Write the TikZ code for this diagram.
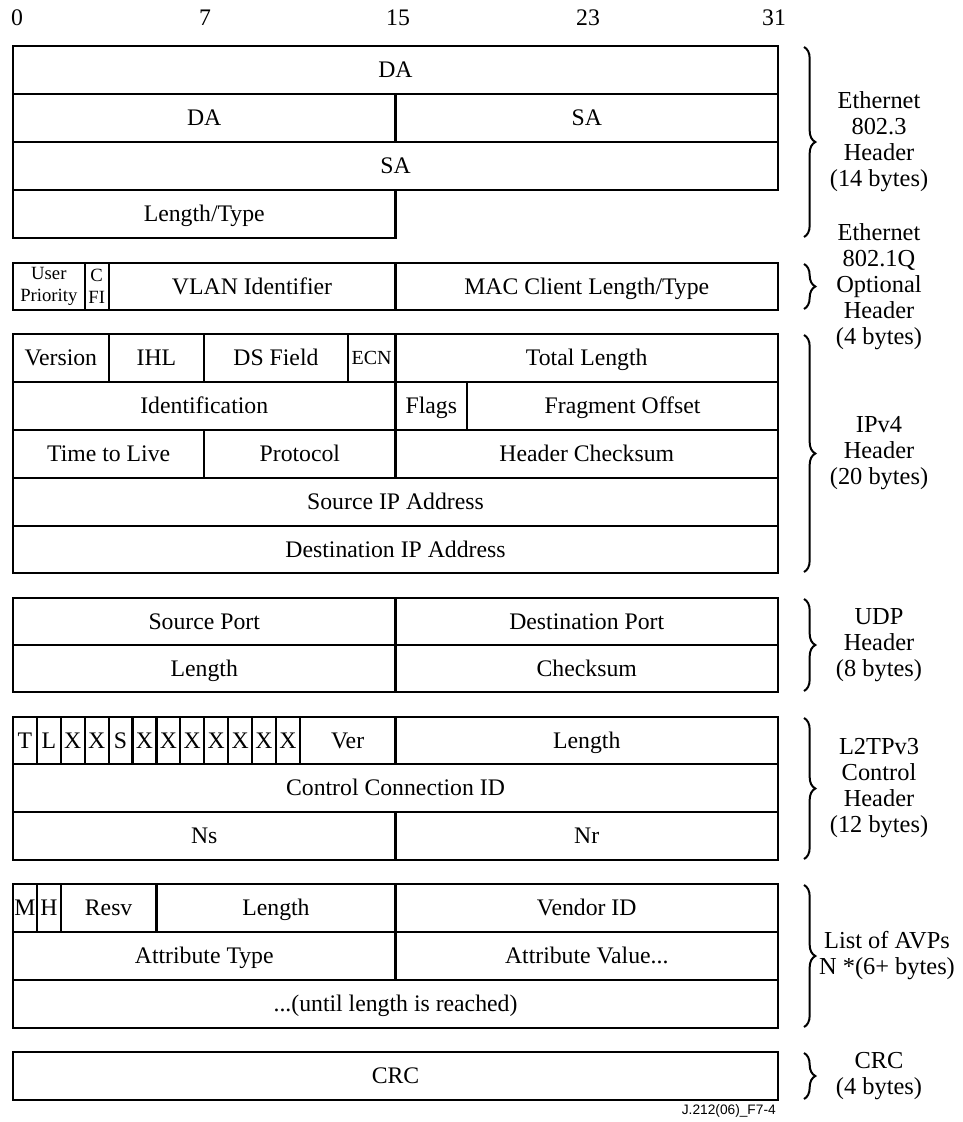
\documentclass[tikz,border=0pt]{standalone}
\usepackage{fontspec}
\setmainfont{Liberation Serif}
\newfontfamily\footfont{Liberation Sans}
\usetikzlibrary{decorations.pathreplacing}
\tikzset{
  fld/.style={draw, line width=1.6pt, inner sep=0pt, align=center,
    text height=13pt, text depth=1.2pt,
    font=\fontsize{17.8}{18.3}\selectfont},
  smalltxt/.style={text height={}, text depth={},
    font=\fontsize{14}{16.5}\selectfont},
  ecntxt/.style={text height=11pt, text depth=1pt, font=\fontsize{15}{16}\selectfont},
  brc/.style={decorate, decoration={brace, amplitude=8.5pt}, line width=1.5pt},
  lbl/.style={align=center, inner sep=0pt, font=\fontsize{18.3}{19.5}\selectfont},
  bitno/.style={inner sep=0pt, font=\fontsize{17.8}{18}\selectfont},
  foot/.style={inner sep=0pt, font=\footfont\fontsize{10.3}{12}\selectfont},
}
% \fld[style]{name}{bit1}{bit2}{y1}{y2}{text}
\newcommand\fld[7][]{%
  \pgfmathsetmacro\fx{13+23.906*(#3+#4)/2}%
  \pgfmathsetmacro\fy{(#5+#6)/2}%
  \pgfmathsetmacro\fw{23.906*(#4-#3)*0.75}%
  \pgfmathsetmacro\fh{(#6-#5)*0.75}%
  \node[fld,minimum width=\fw pt,minimum height=\fh pt,#1] (#2) at (\fx,\fy) {#7};}
% \hdrbrace[label x]{name}{y1}{y2}{text}
\newcommand\hdrbrace[5][879]{%
  \coordinate (#2t) at (804,#3+1);
  \coordinate (#2b) at (804,#4-1);
  \draw[brc] (#2t) -- (#2b);
  \pgfmathsetmacro\ly{(#3+#4)/2}%
  \node[lbl] (#2l) at (#1,\ly) {#5};}
\begin{document}
\begin{tikzpicture}[x=0.75pt,y=-0.75pt]
\useasboundingbox (0,0) rectangle (963,1122);
% bit numbers
\node[bitno] (b0) at (17,18) {0};
\node[bitno] (b7) at (205,18) {7};
\node[bitno] (b15) at (398,18) {15};
\node[bitno] (b23) at (588,18) {23};
\node[bitno] (b31) at (774,18) {31};
% Ethernet 802.3
\fld{da1}{0}{32}{46}{94}{DA}
\fld{da2}{0}{16}{94}{142}{DA}
\fld{sa1}{16}{32}{94}{142}{SA}
\fld{sa2}{0}{32}{142}{190}{SA}
\fld{lt}{0}{16}{190}{238}{Length/Type}
% 802.1Q
\fld[smalltxt]{up}{0}{3}{263}{310}{User\\Priority}
\fld[smalltxt]{cfi}{3}{4}{263}{310}{C\\FI}
\fld{vlan}{4}{16}{263}{310}{VLAN Identifier}
\fld{mac}{16}{32}{263}{310}{MAC Client Length/Type}
% IPv4
\fld{ver}{0}{4}{334}{382}{Version}
\fld{ihl}{4}{8}{334}{382}{IHL}
\fld{ds}{8}{14}{334}{382}{DS Field}
\fld[ecntxt]{ecn}{14}{16}{334}{382}{ECN}
\fld{tl}{16}{32}{334}{382}{Total Length}
\fld{ident}{0}{16}{382}{430}{Identification}
\fld{flags}{16}{19}{382}{430}{Flags}
\fld{frag}{19}{32}{382}{430}{Fragment Offset}
\fld{ttl}{0}{8}{430}{478}{Time to Live}
\fld{proto}{8}{16}{430}{478}{Protocol}
\fld{hcs}{16}{32}{430}{478}{Header Checksum}
\fld{sip}{0}{32}{478}{526}{Source IP Address}
\fld{dip}{0}{32}{526}{573}{Destination IP Address}
% UDP
\fld{sport}{0}{16}{598}{645}{Source Port}
\fld{dport}{16}{32}{598}{645}{Destination Port}
\fld{ulen}{0}{16}{645}{692}{Length}
\fld{ucs}{16}{32}{645}{692}{Checksum}
% L2TPv3
\fld{fT}{0}{1}{717}{764}{T}
\fld{fL}{1}{2}{717}{764}{L}
\fld{fX1}{2}{3}{717}{764}{X}
\fld{fX2}{3}{4}{717}{764}{X}
\fld{fS}{4}{5}{717}{764}{S}
\fld{fX3}{5}{6}{717}{764}{X}
\fld{fX4}{6}{7}{717}{764}{X}
\fld{fX5}{7}{8}{717}{764}{X}
\fld{fX6}{8}{9}{717}{764}{X}
\fld{fX7}{9}{10}{717}{764}{X}
\fld{fX8}{10}{11}{717}{764}{X}
\fld{fX9}{11}{12}{717}{764}{X}
\fld{lver}{12}{16}{717}{764}{Ver}
\fld{llen}{16}{32}{717}{764}{Length}
\fld{ccid}{0}{32}{764}{812}{Control Connection ID}
\fld{ns}{0}{16}{812}{860}{Ns}
\fld{nr}{16}{32}{812}{860}{Nr}
% AVPs
\fld{fM}{0}{1}{884}{932}{M}
\fld{fH}{1}{2}{884}{932}{H}
\fld{resv}{2}{6}{884}{932}{Resv}
\fld{alen}{6}{16}{884}{932}{Length}
\fld{vid}{16}{32}{884}{932}{Vendor ID}
\fld{atype}{0}{16}{932}{980}{Attribute Type}
\fld{aval}{16}{32}{932}{980}{Attribute Value...}
\fld{until}{0}{32}{980}{1028}{...(until length is reached)}
% CRC
\fld{crc}{0}{32}{1052}{1100}{CRC}
\node[foot,anchor=east] (fig) at (776,1111) {J.212(06)\_F7-4};
% braces and labels
\hdrbrace{eth}{46}{238}{Ethernet\\802.3\\Header\\(14 bytes)}
\hdrbrace{vl}{263}{310}{Ethernet\\802.1Q\\Optional\\Header\\(4 bytes)}
\hdrbrace{ip}{334}{573}{IPv4\\Header\\(20 bytes)}
\hdrbrace{udp}{598}{692}{UDP\\Header\\(8 bytes)}
\hdrbrace{l2}{717}{860}{L2TPv3\\Control\\Header\\(12 bytes)}
\hdrbrace[887]{avp}{884}{1028}{List of AVPs\\N *(6+ bytes)}
\hdrbrace{crcb}{1052}{1100}{CRC\\(4 bytes)}
\end{tikzpicture}
\end{document}
